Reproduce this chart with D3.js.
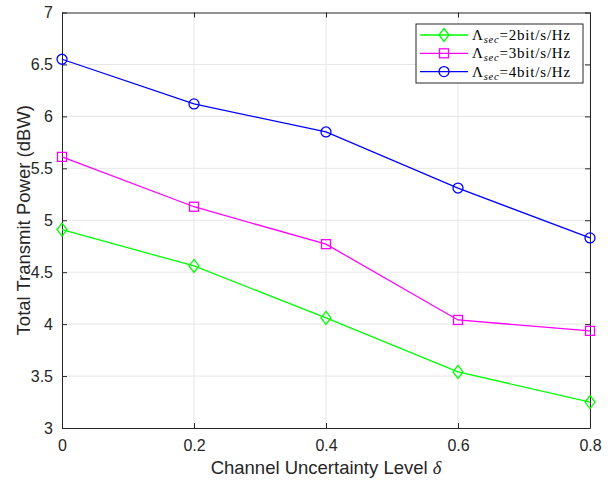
<!DOCTYPE html>
<html>
<head>
<meta charset="utf-8">
<script src="https://cdn.jsdelivr.net/npm/d3@7"></script>
<style>
  html, body { margin: 0; padding: 0; background: #fff; }
  svg { display: block; }
</style>
</head>
<body>
<svg id="chart" width="612" height="482"></svg>
<script>
// Channel uncertainty levels (x axis)
const delta = [0, 0.2, 0.4, 0.6, 0.8];
// Total transmit power (dBW) for each secrecy-rate target
const power2 = [4.91, 4.56, 4.06, 3.54, 3.25];
const power3 = [5.61, 5.13, 4.77, 4.04, 3.935];
const power4 = [6.55, 6.12, 5.85, 5.31, 4.83];
const rateLabels = ["2bit/s/Hz", "3bit/s/Hz", "4bit/s/Hz"];
const xTicks = [0, 0.2, 0.4, 0.6, 0.8];
const yTicks = [3, 3.5, 4, 4.5, 5, 5.5, 6, 6.5, 7];

const series = [
  { values: power2, color: "#00ff00", marker: "diamond", label: rateLabels[0] },
  { values: power3, color: "#ff00ff", marker: "square", label: rateLabels[1] },
  { values: power4, color: "#0000ff", marker: "circle", label: rateLabels[2] }
];

const svg = d3.select("#chart");
const plotL = 62, plotR = 590, plotT = 12.5, plotB = 428;
const x = d3.scaleLinear().domain([0, 0.8]).range([plotL, plotR]);
const y = d3.scaleLinear().domain([3, 7]).range([plotB, plotT]);
const axisColor = "#262626";
const font = "'Liberation Sans', Arial, Helvetica, sans-serif";

// grid
const grid = svg.append("g").attr("stroke", "#e6e6e6").attr("stroke-width", 1);
xTicks.slice(1).forEach(t => grid.append("line")
  .attr("x1", x(t)).attr("x2", x(t)).attr("y1", plotT).attr("y2", plotB));
yTicks.slice(1, -1).forEach(t => grid.append("line")
  .attr("x1", plotL).attr("x2", plotR).attr("y1", y(t)).attr("y2", y(t)));

// axes
const xAxis = d3.axisBottom(x).tickValues(xTicks).tickFormat(d3.format("")).tickSizeInner(-5).tickSizeOuter(0).tickPadding(12);
const yAxis = d3.axisLeft(y).tickValues(yTicks).tickFormat(d3.format("")).tickSizeInner(-5).tickSizeOuter(0).tickPadding(9);
const xTop = d3.axisTop(x).tickValues(xTicks).tickFormat("").tickSizeInner(-5).tickSizeOuter(0);
const yRight = d3.axisRight(y).tickValues(yTicks).tickFormat("").tickSizeInner(-5).tickSizeOuter(0);

function styleAxis(g) {
  g.selectAll("path, line").attr("stroke", axisColor).attr("stroke-width", 1);
  g.selectAll("text").attr("fill", axisColor).style("font-family", font).style("font-size", "16px");
}
svg.append("g").attr("transform", `translate(0,${plotB})`).call(xAxis).call(styleAxis);
svg.append("g").attr("transform", `translate(${plotL},0)`).call(yAxis).call(styleAxis);
svg.append("g").attr("transform", `translate(0,${plotT})`).call(xTop).call(styleAxis);
svg.append("g").attr("transform", `translate(${plotR},0)`).call(yRight).call(styleAxis);

// axis labels
const xl = svg.append("text").attr("x", (plotL + plotR) / 2).attr("y", 474)
  .attr("text-anchor", "middle").attr("fill", axisColor)
  .style("font-family", font).style("font-size", "18.5px");
xl.append("tspan").text("Channel Uncertainty Level ");
xl.append("tspan").text("δ").style("font-family", "'Liberation Serif', 'DejaVu Serif', serif").style("font-style", "italic");

svg.append("text").attr("transform", `translate(30,${(plotT + plotB) / 2}) rotate(-90)`)
  .attr("text-anchor", "middle").attr("fill", axisColor)
  .style("font-family", font).style("font-size", "18.5px")
  .text("Total Transmit Power (dBW)");

// marker drawing
function drawMarker(g, type, cx, cy, color) {
  if (type === "diamond") {
    g.append("path").attr("d", `M${cx},${cy - 6.5}L${cx + 5},${cy}L${cx},${cy + 6.5}L${cx - 5},${cy}Z`)
      .attr("fill", "none").attr("stroke", color).attr("stroke-width", 1.3);
  } else if (type === "square") {
    g.append("rect").attr("x", cx - 4.5).attr("y", cy - 4.5).attr("width", 9).attr("height", 9)
      .attr("fill", "none").attr("stroke", color).attr("stroke-width", 1.3);
  } else {
    g.append("circle").attr("cx", cx).attr("cy", cy).attr("r", 5)
      .attr("fill", "none").attr("stroke", color).attr("stroke-width", 1.3);
  }
}

// series
const line = d3.line().x((d, i) => x(delta[i])).y(d => y(d));
series.forEach(s => {
  const g = svg.append("g");
  g.append("path").datum(s.values).attr("d", line)
    .attr("fill", "none").attr("stroke", s.color).attr("stroke-width", 1.3);
  s.values.forEach((v, i) => drawMarker(g, s.marker, x(delta[i]), y(v), s.color));
});

// legend
const lg = svg.append("g");
lg.append("rect").attr("x", 416).attr("y", 24).attr("width", 167).attr("height", 59)
  .attr("fill", "#fff").attr("stroke", axisColor).attr("stroke-width", 1);
const serif = "'Liberation Serif', 'DejaVu Serif', 'Times New Roman', serif";
series.forEach((s, i) => {
  const ry = 35 + i * 18.3;
  lg.append("line").attr("x1", 420).attr("x2", 468).attr("y1", ry).attr("y2", ry)
    .attr("stroke", s.color).attr("stroke-width", 1.3);
  drawMarker(lg, s.marker, 444, ry, s.color);
  const t = lg.append("text").attr("x", 472).attr("y", ry + 5).attr("fill", "#000")
    .style("font-family", serif).style("font-size", "15px").style("letter-spacing", "0.8px");
  t.append("tspan").text("Λ");
  t.append("tspan").text("sec").attr("dy", 3).style("font-size", "10.5px").style("font-style", "italic");
  t.append("tspan").text("=" + s.label).attr("dy", -3);
});
</script>
</body>
</html>
